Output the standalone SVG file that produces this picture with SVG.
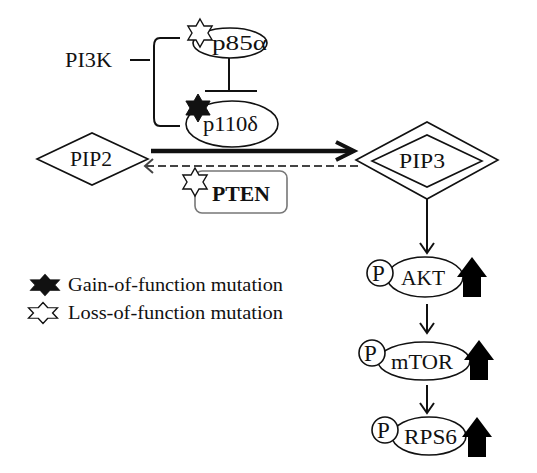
<svg xmlns="http://www.w3.org/2000/svg" width="537" height="473" viewBox="0 0 537 473">
<defs>
<style>
.t{font-family:"Liberation Serif","Times New Roman",serif;font-size:21px;fill:#111;}
.p{font-family:"Liberation Serif","Times New Roman",serif;font-size:23px;fill:#111;}
.lg{font-family:"Liberation Serif","Times New Roman",serif;font-size:19px;fill:#111;}
.ln{fill:none;stroke:#111;stroke-width:2;}
.sh{fill:#fff;stroke:#111;stroke-width:1.6;}
</style>
<polygon id="hex" points="0,-14 4,-7 12.1,-7 8,0 12.1,7 4,7 0,14 -4,7 -12.1,7 -8,0 -12.1,-7 -4,-7"/>
<path id="up" d="M0,0 L15,20 L9,20 L9,40 L-9,40 L-9,20 L-15,20 Z"/>
</defs>
<rect width="537" height="473" fill="#fff"/>

<g id="connectors">
<path class="ln" d="M130,60 H150 M180,38 H160 Q154,38 154,46 V118 Q154,126 160,126 H180"/>
<path class="ln" d="M229,58 V91 M205,91 H257"/>
<path fill="none" stroke="#111" stroke-width="4.5" d="M151,151 H353"/>
<polyline fill="none" stroke="#111" stroke-width="4" points="336,142 354,151 336,160"/>
<path fill="none" stroke="#444" stroke-width="2.2" stroke-dasharray="8,4" d="M146,166 H358"/>
<polyline fill="none" stroke="#444" stroke-width="2" points="153,159 145,166 153,173"/>
<path class="ln" d="M427,199 V252"/>
<polyline class="ln" points="420,243 427,253 434,243"/>
<path class="ln" d="M427,304 V332"/>
<polyline class="ln" points="420,323 427,333 434,323"/>
<path class="ln" d="M427,385 V412"/>
<polyline class="ln" points="420,403 427,413 434,403"/>
</g>

<g id="pi3k"><text class="t" x="65" y="67" textLength="47" lengthAdjust="spacingAndGlyphs">PI3K</text></g>

<g id="p85a">
<ellipse class="sh" cx="230" cy="43" rx="37" ry="15"/>
<text class="t" x="212" y="50" textLength="55" lengthAdjust="spacingAndGlyphs">p85α</text>
<use href="#hex" x="200" y="33" fill="#fff" stroke="#111" stroke-width="1.4"/>
</g>

<g id="p110d">
<ellipse class="sh" cx="232" cy="124" rx="46" ry="23"/>
<text class="t" x="203" y="131" textLength="55" lengthAdjust="spacingAndGlyphs">p110δ</text>
<use href="#hex" x="198" y="108" fill="#111" stroke="#111" stroke-width="1"/>
</g>

<g id="pip2">
<polygon class="sh" points="37,159 92,133 148,159 92,185"/>
<text class="t" x="70" y="166" textLength="42" lengthAdjust="spacingAndGlyphs">PIP2</text>
</g>

<g id="pten">
<rect x="195" y="171" width="92" height="42" rx="7" fill="#fff" stroke="#777" stroke-width="1.6"/>
<text class="t" x="212" y="201" textLength="58" lengthAdjust="spacingAndGlyphs" font-weight="bold">PTEN</text>
<use href="#hex" x="195" y="182" fill="#fff" stroke="#111" stroke-width="1.4"/>
</g>

<g id="pip3">
<polygon class="sh" points="356,160 427,122 498,160 427,199"/>
<polygon fill="none" stroke="#111" stroke-width="1.6" points="372,161 427,135 482,161 427,187"/>
<text class="t" x="399" y="168" textLength="46" lengthAdjust="spacingAndGlyphs">PIP3</text>
</g>

<g id="akt">
<ellipse class="sh" cx="425" cy="277" rx="38" ry="20"/>
<circle class="sh" cx="380" cy="273" r="13"/>
<text class="p" x="372" y="281">P</text>
<text class="t" x="401" y="285" textLength="44" lengthAdjust="spacingAndGlyphs">AKT</text>
<use href="#up" x="472" y="257" fill="#000"/>
</g>

<g id="mtor">
<ellipse class="sh" cx="424" cy="361" rx="46" ry="19"/>
<circle class="sh" cx="372" cy="353" r="13"/>
<text class="p" x="364" y="361">P</text>
<text class="t" x="391" y="369" textLength="62" lengthAdjust="spacingAndGlyphs">mTOR</text>
<use href="#up" x="479" y="340" fill="#000"/>
</g>

<g id="rps6">
<ellipse class="sh" cx="429" cy="436" rx="37" ry="19"/>
<circle class="sh" cx="385" cy="430" r="13"/>
<text class="p" x="377" y="438">P</text>
<text class="t" x="404" y="444" textLength="53" lengthAdjust="spacingAndGlyphs">RPS6</text>
<use href="#up" x="477" y="417" fill="#000"/>
</g>

<g id="legend">
<use href="#hex" transform="translate(45,285) scale(1.2,0.75)" fill="#111" stroke="#111" stroke-width="1"/>
<text class="lg" x="68" y="291" textLength="215" lengthAdjust="spacingAndGlyphs">Gain-of-function mutation</text>
<use href="#hex" transform="translate(43,313) scale(1.2,0.75)" fill="#fff" stroke="#111" stroke-width="1.4"/>
<text class="lg" x="68" y="319" textLength="215" lengthAdjust="spacingAndGlyphs">Loss-of-function mutation</text>
</g>
</svg>
